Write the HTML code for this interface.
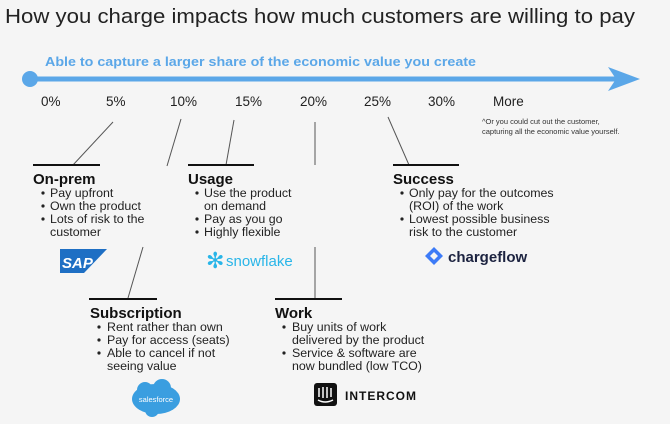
<!DOCTYPE html>
<html><head><meta charset="utf-8"><style>
html,body{margin:0;padding:0;background:#f5f5f5;}
svg{display:block;font-family:"Liberation Sans",sans-serif;}
.h{font-weight:bold;font-size:15px;fill:#111;}
.b{font-size:12.4px;fill:#222;}
.p{font-size:13.5px;fill:#222;}
</style></head><body>
<svg width="670" height="424" viewBox="0 0 670 424">
<rect width="670" height="424" fill="#f5f5f5"/>
<text x="5" y="23" font-size="20" fill="#222" textLength="630" lengthAdjust="spacingAndGlyphs">How you charge impacts how much customers are willing to pay</text>
<text x="45" y="66" font-size="13" font-weight="bold" fill="#5ba7e8" textLength="431" lengthAdjust="spacingAndGlyphs">Able to capture a larger share of the economic value you create</text>
<line x1="30" y1="79" x2="628" y2="79" stroke="#5ba7e8" stroke-width="5"/>
<circle cx="30" cy="79" r="8" fill="#5ba7e8"/>
<polygon points="608,67 640,79 608,91 616,79" fill="#5ba7e8"/>
<g class="p">
<text x="41" y="106">0%</text><text x="106" y="106">5%</text><text x="170" y="106">10%</text><text x="235" y="106">15%</text><text x="300" y="106">20%</text><text x="364" y="106">25%</text><text x="428" y="106">30%</text><text x="493" y="106">More</text>
</g>
<text x="482" y="124" font-size="7.5" fill="#333">^Or you could cut out the customer,</text>
<text x="482" y="134" font-size="7.5" fill="#333">capturing all the economic value yourself.</text>
<g stroke="#555" stroke-width="1">
<line x1="113" y1="122" x2="73" y2="165"/>
<line x1="181" y1="119" x2="167" y2="166"/>
<line x1="234" y1="120" x2="226" y2="165"/>
<line x1="315" y1="122" x2="315" y2="165"/>
<line x1="388" y1="117" x2="409" y2="165"/>
<line x1="143" y1="247" x2="128" y2="298"/>
<line x1="315" y1="247" x2="315" y2="298"/>
</g>
<g stroke="#111" stroke-width="2">
<line x1="33" y1="165" x2="100" y2="165"/>
<line x1="188" y1="165" x2="254" y2="165"/>
<line x1="393" y1="165" x2="459" y2="165"/>
<line x1="89" y1="299" x2="157" y2="299"/>
<line x1="275" y1="299" x2="342" y2="299"/>
</g>
<g fill="#222">
<text class="h" x="33" y="184">On-prem</text>
<circle cx="43" cy="193" r="1.6"/><circle cx="43" cy="206" r="1.6"/><circle cx="43" cy="219" r="1.6"/>
<text class="b" x="50" y="197">Pay upfront</text><text class="b" x="50" y="210">Own the product</text><text class="b" x="50" y="223">Lots of risk to the</text><text class="b" x="50" y="236">customer</text>
<text class="h" x="188" y="184">Usage</text>
<circle cx="197" cy="193" r="1.6"/><circle cx="197" cy="219" r="1.6"/><circle cx="197" cy="232" r="1.6"/>
<text class="b" x="204" y="197">Use the product</text><text class="b" x="204" y="210">on demand</text><text class="b" x="204" y="223">Pay as you go</text><text class="b" x="204" y="236">Highly flexible</text>
<text class="h" x="393" y="184">Success</text>
<circle cx="402" cy="193" r="1.6"/><circle cx="402" cy="219" r="1.6"/>
<text class="b" x="409" y="197">Only pay for the outcomes</text><text class="b" x="409" y="210">(ROI) of the work</text><text class="b" x="409" y="223">Lowest possible business</text><text class="b" x="409" y="236">risk to the customer</text>
<text class="h" x="90" y="318">Subscription</text>
<circle cx="99" cy="327" r="1.6"/><circle cx="99" cy="340" r="1.6"/><circle cx="99" cy="353" r="1.6"/>
<text class="b" x="107" y="331">Rent rather than own</text><text class="b" x="107" y="344">Pay for access (seats)</text><text class="b" x="107" y="357">Able to cancel if not</text><text class="b" x="107" y="370">seeing value</text>
<text class="h" x="275" y="318">Work</text>
<circle cx="284" cy="327" r="1.6"/><circle cx="284" cy="353" r="1.6"/>
<text class="b" x="292" y="331">Buy units of work</text><text class="b" x="292" y="344">delivered by the product</text><text class="b" x="292" y="357">Service &amp; software are</text><text class="b" x="292" y="370">now bundled (low TCO)</text>
</g>
<polygon points="60,249 107,249 84,273 60,273" fill="#1e6fc4"/>
<text x="62" y="268" font-size="15" font-weight="bold" fill="#fff" font-style="italic">SAP</text>
<text x="206" y="268" font-size="22" fill="#29b5e8">✻</text>
<text x="226" y="266" font-size="15" fill="#29b5e8">snowflake</text>
<polygon points="434,247 443,256 434,265 425,256" fill="#3d7bf7"/>
<polygon points="434,252 438,256 434,260 430,256" fill="#f5f5f5"/>
<text x="448" y="262" font-size="15" font-weight="bold" fill="#1c2340">chargeflow</text>
<ellipse cx="156" cy="399" rx="24" ry="15" fill="#3a9ee0"/>
<circle cx="145" cy="390" r="8" fill="#3a9ee0"/><circle cx="162" cy="388" r="9" fill="#3a9ee0"/><circle cx="152" cy="410" r="7" fill="#3a9ee0"/>
<text x="156" y="402" font-size="7.5" fill="#fff" text-anchor="middle">salesforce</text>
<rect x="314" y="383" width="23" height="23" rx="3" fill="#111"/>
<g stroke="#fff" stroke-width="1.5"><line x1="319" y1="388" x2="319" y2="397"/><line x1="323" y1="387" x2="323" y2="398"/><line x1="327" y1="387" x2="327" y2="398"/><line x1="331" y1="388" x2="331" y2="397"/></g>
<path d="M318 400 Q325 404 333 400" stroke="#fff" stroke-width="1.5" fill="none"/>
<text x="345" y="400" font-size="12" font-weight="bold" fill="#111" letter-spacing="1">INTERCOM</text>
</svg>
</body></html>
